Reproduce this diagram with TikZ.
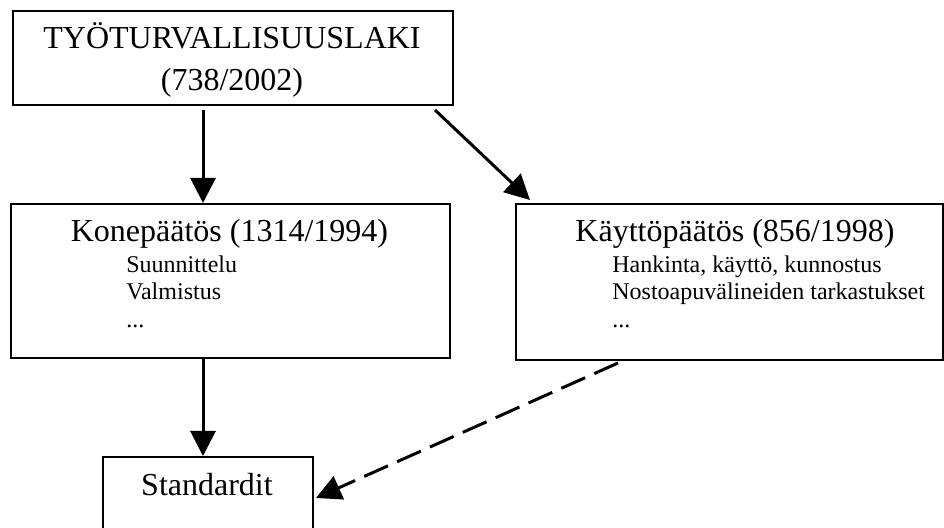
\documentclass[tikz,border=0pt]{standalone}
\usepackage{fontspec}
\setmainfont{Liberation Serif}
\usetikzlibrary{arrows.meta,calc}

\begin{document}
\begin{tikzpicture}[x=0.5pt, y=-0.5pt,
    box/.style={draw, line width=1pt, inner sep=0pt, anchor=north west},
    big/.style={font=\fontsize{16}{19}\selectfont, inner sep=0pt, anchor=base},
    small/.style={font=\fontsize{12}{14}\selectfont, inner sep=0pt, anchor=base west},
    arr/.style={line width=1.5pt, -{Triangle[length=12.5pt,width=12.5pt]}}]
    \useasboundingbox (0,0) rectangle (944,528);
    \clip (0,0) rectangle (944,528);

    % Law
    \node[box, minimum width=220pt, minimum height=47pt] (laki) at (12,10) {};
    \node[big] (lakiname) at (232,49) {TYÖTURVALLISUUSLAKI};
    \node[big] (lakinum) at (232,91) {(738/2002)};

    % Machine decree
    \node[box, minimum width=219.5pt, minimum height=77pt] (kone) at (10,203) {};
    \node[big] (konename) at (229.5,242) {Konepäätös (1314/1994)};
    \node[small] (kone1) at (126,273) {Suunnittelu};
    \node[small] (kone2) at (126,300) {Valmistus};
    \node[small] (kone3) at (126,328) {...};

    % Use decree
    \node[box, minimum width=213.5pt, minimum height=78pt] (kaytto) at (515,203) {};
    \node[big] (kayttoname) at (735,242) {Käyttöpäätös (856/1998)};
    \node[small] (kaytto1) at (612,273) {Hankinta, käyttö, kunnostus};
    \node[small] (kaytto2) at (612,300) {Nostoapuvälineiden tarkastukset};
    \node[small] (kaytto3) at (612,328) {...};

    % Standards
    \node[box, minimum width=105pt, minimum height=41pt] (std) at (102,456) {};
    \node[big] (stdname) at (207,496) {Standardit};

    % Arrows
    \coordinate (lane) at (203,0);
    \draw[arr] ($(laki.south -| lane)+(0,4)$) -- (kone.north -| lane);
    \draw[arr] ($(laki.south east)+(-19,4)$) -- ($(kaytto.north west)+(15,-3)$);
    \draw[arr] (kone.south -| lane) -- (std.north -| lane);
    \draw[arr, dash pattern=on 13pt off 5pt] ($(kaytto.south west)+(103,2)$) -- ($(std.east)+(2,0)$);
\end{tikzpicture}
\end{document}
